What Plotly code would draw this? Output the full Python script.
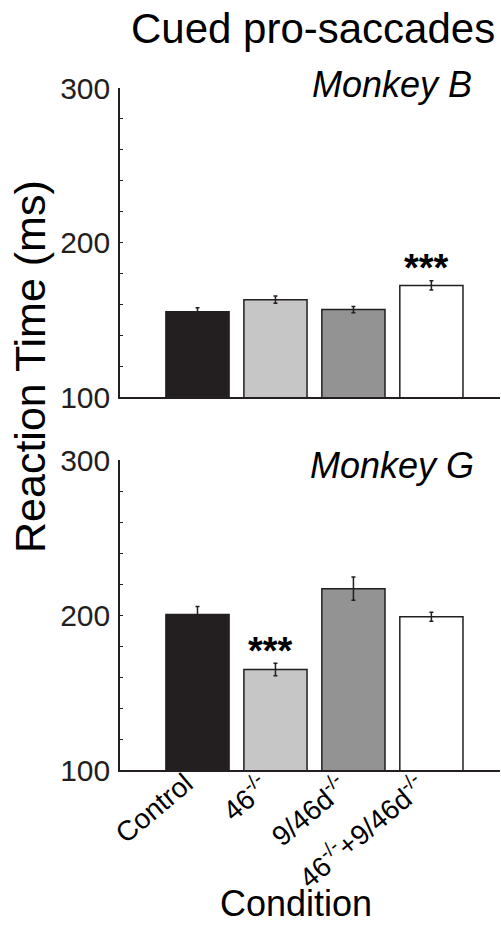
import plotly.graph_objects as go

conditions = ["Control", "46<sup>-/-</sup>", "9/46d<sup>-/-</sup>", "46<sup>-/-</sup>+9/46d<sup>-/-</sup>"]
bar_colors = ["#231f20", "#c6c6c6", "#939393", "#ffffff"]

monkey_b_rt = [155.2, 163.0, 156.6, 172.2]
monkey_b_err = [2.6, 2.4, 2.0, 3.0]
monkey_g_rt = [200.3, 164.8, 217.0, 198.8]
monkey_g_err = [5.2, 4.0, 7.5, 2.9]

sig_b_index = 3
sig_g_index = 1

x_pos = [0, 1, 2, 3]
INK = "#231f20"
FONT = "Liberation Sans, Arial, sans-serif"

fig = go.Figure()

fig.add_trace(go.Bar(
    x=x_pos, y=monkey_b_rt, width=0.81,
    marker=dict(color=bar_colors, line=dict(color=INK, width=1.5)),
    error_y=dict(type="data", array=monkey_b_err, color=INK, thickness=1.5, width=2),
    xaxis="x", yaxis="y", showlegend=False, hoverinfo="skip"))

fig.add_trace(go.Bar(
    x=x_pos, y=monkey_g_rt, width=0.81,
    marker=dict(color=bar_colors, line=dict(color=INK, width=1.5)),
    error_y=dict(type="data", array=monkey_g_err, color=INK, thickness=1.5, width=2),
    xaxis="x2", yaxis="y2", showlegend=False, hoverinfo="skip"))

W, H = 501, 925
x_dom = [120 / W, 500 / W]
top_dom = [1 - 397 / H, 1 - 88 / H]
bot_dom = [1 - 770 / H, 1 - 460 / H]

yax_common = dict(
    range=[100, 300], tickvals=[100, 200, 300], ticktext=["100", "200", "300"],
    ticks="inside", ticklen=3, tickwidth=1, tickcolor=INK,
    minor=dict(dtick=20, tick0=100, ticks="inside", ticklen=3, tickcolor=INK, tickwidth=1),
    showline=True, linecolor=INK, linewidth=1.5, showgrid=False, zeroline=False,
    tickfont=dict(family=FONT, size=30, color=INK), ticklabelstandoff=2,
    automargin=False, fixedrange=True,
)
xax_common = dict(
    range=[-0.994, 3.88], showline=True, linecolor=INK, linewidth=1.5,
    showgrid=False, zeroline=False, ticks="", automargin=False, fixedrange=True,
    showticklabels=False,
)

fig.update_layout(
    width=W, height=H,
    margin=dict(l=0, r=0, t=0, b=0),
    paper_bgcolor="white", plot_bgcolor="white",
    barmode="overlay",
    xaxis=dict(domain=x_dom, anchor="y", **xax_common),
    yaxis=dict(domain=top_dom, anchor="x", **yax_common),
    xaxis2=dict(domain=x_dom, anchor="y2", **xax_common),
    yaxis2=dict(domain=bot_dom, anchor="x2", **yax_common),
)

annotations = [
    dict(text="Cued pro-saccades", x=313 / W, y=1 - 28 / H, xref="paper", yref="paper",
         showarrow=False, font=dict(family=FONT, size=42, color="black"),
         xanchor="center", yanchor="middle"),
    dict(text="<i>Monkey B</i>", x=474 / W, y=1 - 85 / H, xref="paper", yref="paper",
         showarrow=False, font=dict(family=FONT, size=36, color="black"),
         xanchor="right", yanchor="middle"),
    dict(text="<i>Monkey G</i>", x=476 / W, y=1 - 465 / H, xref="paper", yref="paper",
         showarrow=False, font=dict(family=FONT, size=36, color="black"),
         xanchor="right", yanchor="middle"),
    dict(text="Reaction Time (ms)", x=30 / W, y=1 - 367 / H, xref="paper", yref="paper",
         showarrow=False, textangle=-90, font=dict(family=FONT, size=43, color="black"),
         xanchor="center", yanchor="middle"),
    dict(text="Condition", x=296 / W, y=0, xref="paper", yref="paper",
         showarrow=False, font=dict(family=FONT, size=36, color="black"),
         xanchor="center", yanchor="bottom", borderpad=0),
    dict(text="<b>***</b>", x=x_pos[sig_b_index], y=monkey_b_rt[sig_b_index] + monkey_b_err[sig_b_index] + 8,
         xref="x", yref="y", showarrow=False, font=dict(family=FONT, size=38, color="black"),
         xanchor="center", yanchor="middle", xshift=-5),
    dict(text="<b>***</b>", x=x_pos[sig_g_index], y=monkey_g_rt[sig_g_index] + monkey_g_err[sig_g_index] + 8,
         xref="x2", yref="y2", showarrow=False, font=dict(family=FONT, size=38, color="black"),
         xanchor="center", yanchor="middle", xshift=-5),
]
# rotated category labels under the lower panel
for xp, label in zip(x_pos, conditions):
    annotations.append(dict(
        text=label, x=xp, y=bot_dom[0], xref="x2", yref="paper",
        showarrow=False, textangle=-40, font=dict(family=FONT, size=28, color="black"),
        xanchor="right", yanchor="top", xshift=2, yshift=4, borderpad=0))
fig.update_layout(annotations=annotations)

fig.write_html("out.html")
